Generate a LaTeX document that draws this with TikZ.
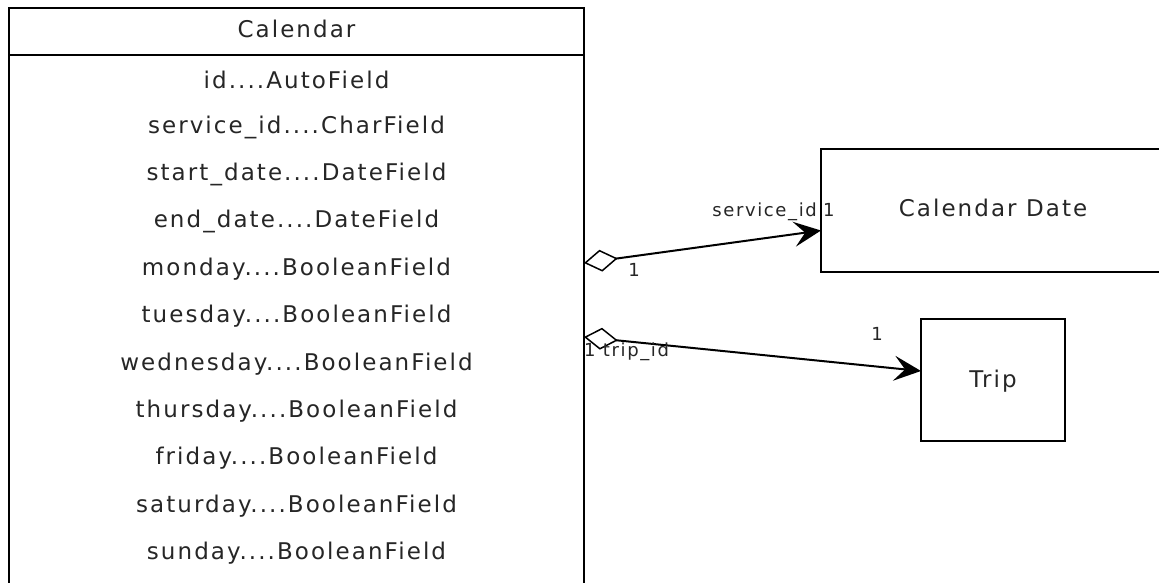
\documentclass[tikz,border=0pt]{standalone}
\usepackage{fontspec}
\newfontfamily\umlfont{DejaVu Sans}[LetterSpace=9]
\usetikzlibrary{arrows.meta}
\tikzset{
  umlbox/.style={draw, line width=1.8pt, inner sep=0pt, outer sep=0pt},
  field/.style={font=\umlfont\fontsize{23}{27}\selectfont, text=black!85, anchor=center, inner sep=0pt},
  mult/.style={font=\umlfont\fontsize{18}{22}\selectfont, text=black!85, inner sep=0pt},
  assoc/.style={line width=2pt,
    {Diamond[open,length=34pt,width=22pt,line width=1.5pt]}-{Stealth[length=27pt,width=25pt,inset=11pt]}}
}
\begin{document}
\begin{tikzpicture}[x=1pt,y=-1pt]
\useasboundingbox (0,0) rectangle (1159,582);
\clip (0,0) rectangle (1159,582);
\fill[white] (0,0) rectangle (1159,582);

% Calendar class: header and attribute compartment
\node[umlbox, minimum width=575pt, minimum height=47pt] (calhead) at (296.5,31.5) {};
\node[field] (calname) at (296.5,29) {Calendar};
\node[umlbox, minimum width=575pt, minimum height=545pt, anchor=north] (calbody) at (calhead.south) {};

\node[field] (row0)  at (296.5,80.0)  {id....AutoField};
\node[field] (row1)  at (296.5,127.3) {service\_id....CharField};
\node[field] (row2)  at (296.5,174.6) {start\_date....DateField};
\node[field] (row3)  at (296.5,221.9) {end\_date....DateField};
\node[field] (row4)  at (296.5,269.2) {monday....BooleanField};
\node[field] (row5)  at (296.5,316.5) {tuesday....BooleanField};
\node[field] (row6)  at (296.5,363.8) {wednesday....BooleanField};
\node[field] (row7)  at (296.5,411.1) {thursday....BooleanField};
\node[field] (row8)  at (296.5,458.4) {friday....BooleanField};
\node[field] (row9)  at (296.5,505.7) {saturday....BooleanField};
\node[field] (row10) at (296.5,553.0) {sunday....BooleanField};

% Related classes
\node[umlbox, minimum width=360pt, minimum height=123pt, anchor=north west] (cdate) at (821,149) {};
\node[field] (cdname) at (993,208) {Calendar Date};
\node[umlbox, minimum width=144pt, minimum height=122pt, anchor=north west] (trip) at (921,319) {};
\node[field] (tripname) at (993,381) {Trip};

% Associations
\draw[assoc] ([yshift=64.5pt]calbody.east) -- ([yshift=-20pt]cdate.west);
\draw[assoc] ([yshift=-9.5pt]calbody.east) -- ([yshift=9pt]trip.west);

% Association end labels
\node[mult, anchor=base east] (l1) at (817,216) {service\_id};
\node[mult, anchor=base west] (l2) at (823,216) {1};
\node[mult, anchor=center] (l3) at (634,270) {1};
\node[mult, anchor=west] (l4) at (584,352) {1 trip\_id};
\node[mult, anchor=center] (l5) at (877,334) {1};
\end{tikzpicture}
\end{document}
